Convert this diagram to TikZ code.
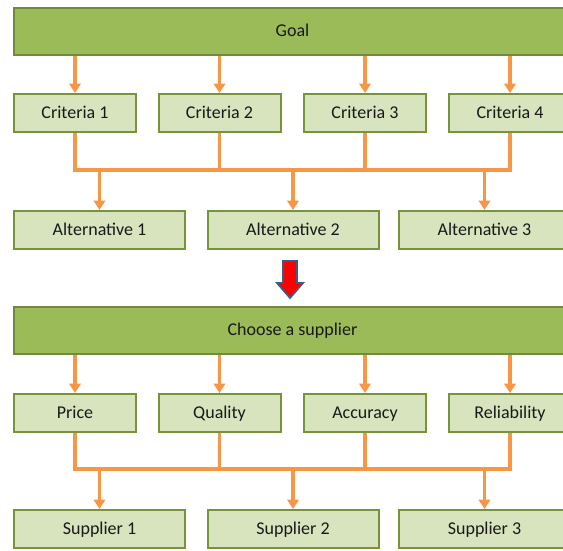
\documentclass[tikz,border=0pt]{standalone}
\usepackage{fontspec}
\setmainfont{Carlito}
\usetikzlibrary{arrows.meta}
\definecolor{goalgreen}{HTML}{9BBB59}
\definecolor{goaledge}{HTML}{71893F}
\definecolor{boxgreen}{HTML}{D7E4BD}
\definecolor{boxedge}{HTML}{77933C}
\definecolor{linkorange}{HTML}{F79646}
\definecolor{downblue}{HTML}{385D8A}
\tikzset{
  goalbox/.style={draw=goaledge, fill=goalgreen, line width=1.5pt, inner sep=0pt,
    minimum width=418pt, minimum height=35.25pt, text=black!90,
    text height=0.8em, text depth=0em, font=\fontsize{13.5}{16}\selectfont},
  critbox/.style={goalbox, draw=boxedge, fill=boxgreen,
    minimum width=91.5pt, minimum height=28.5pt},
  altbox/.style={critbox, minimum width=128.25pt},
  link/.style={draw=linkorange, line width=2.3pt},
  arr/.style={link, -{Triangle[width=8.5pt,length=7pt]}},
  redarrow/.style={fill=red, draw=downblue, line width=1.3pt, line join=miter}
}
\begin{document}
\begin{tikzpicture}[x=0.75pt,y=-0.75pt]
   \useasboundingbox (0,0) rectangle (563,550);
   % hierarchy in general form
   \node[goalbox] (goal) at (292.5,31.5) {Goal};
   \node[critbox] (c1) at (75,113)    {Criteria 1};
   \node[critbox] (c2) at (219.5,113) {Criteria 2};
   \node[critbox] (c3) at (365,113)   {Criteria 3};
   \node[critbox] (c4) at (510,113)   {Criteria 4};
   \coordinate (busA) at (0,170);
   \node[altbox] (a1) at (99.5,230)  {Alternative 1};
   \node[altbox] (a2) at (293,230)   {Alternative 2};
   \node[altbox] (a3) at (484.5,230) {Alternative 3};
   \draw[arr] (goal.south -| c1) -- (c1.north);
   \draw[arr] (goal.south -| c2) -- (c2.north);
   \draw[arr] (goal.south -| c3) -- (c3.north);
   \draw[arr] (goal.south -| c4) -- (c4.north);
   \draw[link] (c1.south) |- (busA -| c4) -- (c4.south);
   \draw[link] (c2.south) -- (c2 |- busA);
   \draw[link] (c3.south) -- (c3 |- busA);
   \draw[arr] (a1 |- busA) -- (a1.north);
   \draw[arr] (a2 |- busA) -- (a2.north);
   \draw[arr] (a3 |- busA) -- (a3.north);
   % block arrow between the two
   \filldraw[redarrow] (283,261) -- (297,261) -- (297,283) -- (303,283)
      -- (290,298) -- (277,283) -- (283,283) -- cycle;
   % hierarchy for the supplier
   \node[goalbox] (choose) at (292.5,330.5) {Choose a supplier};
   \node[critbox] (price)    at (75,413)    {Price};
   \node[critbox] (quality)  at (219.5,413) {Quality};
   \node[critbox] (accuracy) at (365,413)   {Accuracy};
   \node[critbox] (reliab)   at (510,413)   {Reliability};
   \coordinate (busB) at (0,469);
   \node[altbox] (s1) at (99.5,529)  {Supplier 1};
   \node[altbox] (s2) at (293,529)   {Supplier 2};
   \node[altbox] (s3) at (484.5,529) {Supplier 3};
   \draw[arr] (choose.south -| price) -- (price.north);
   \draw[arr] (choose.south -| quality) -- (quality.north);
   \draw[arr] (choose.south -| accuracy) -- (accuracy.north);
   \draw[arr] (choose.south -| reliab) -- (reliab.north);
   \draw[link] (price.south) |- (busB -| reliab) -- (reliab.south);
   \draw[link] (quality.south) -- (quality |- busB);
   \draw[link] (accuracy.south) -- (accuracy |- busB);
   \draw[arr] (s1 |- busB) -- (s1.north);
   \draw[arr] (s2 |- busB) -- (s2.north);
   \draw[arr] (s3 |- busB) -- (s3.north);
\end{tikzpicture}
\end{document}
